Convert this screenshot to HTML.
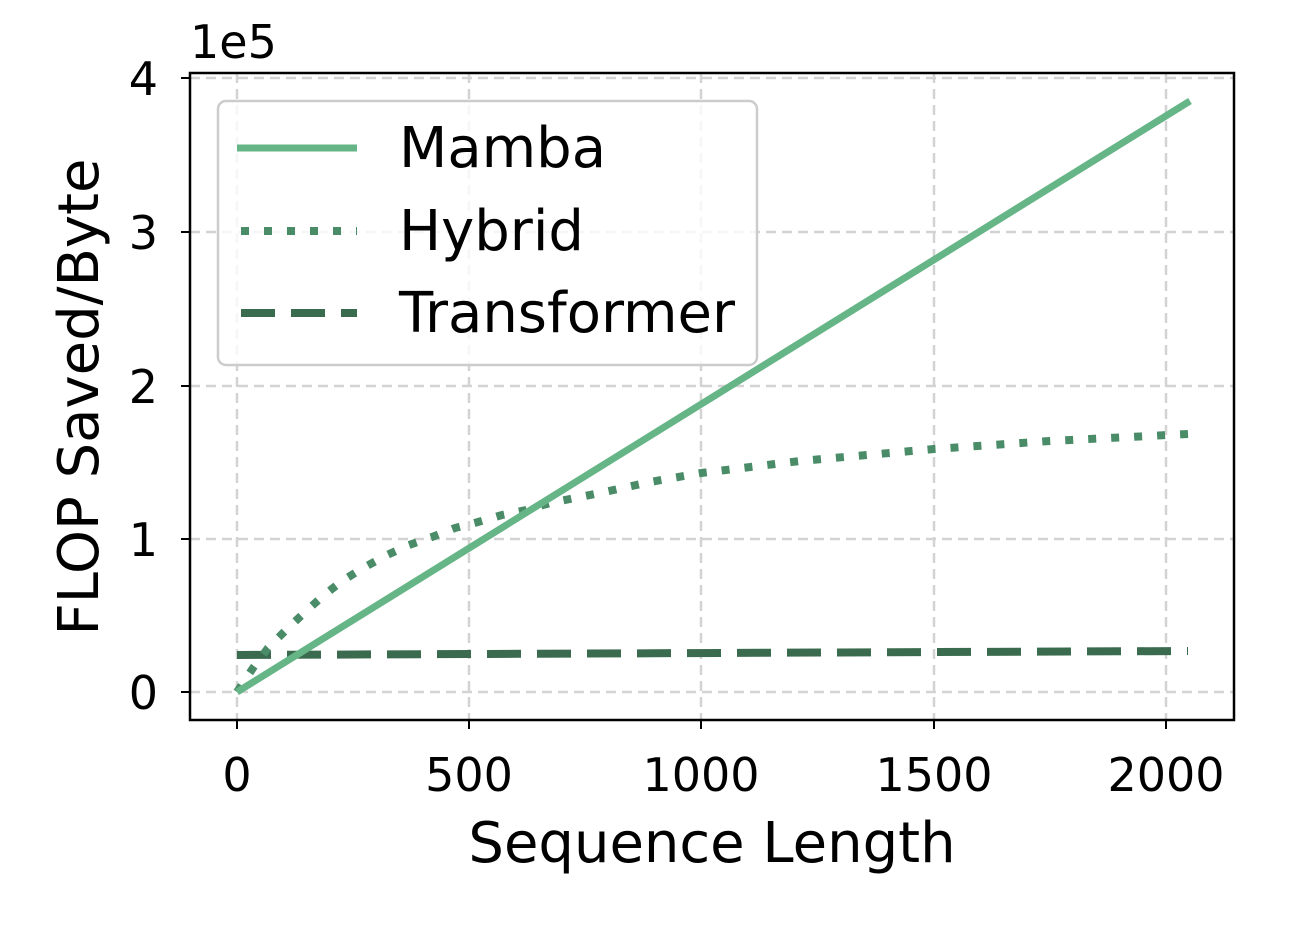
<!DOCTYPE html>
<html><head><style>body{margin:0;background:#fff}</style></head><body>
<svg width="1294" height="940" xmlns="http://www.w3.org/2000/svg" font-family="'DejaVu Sans','Liberation Sans',sans-serif">
<rect width="1294" height="940" fill="#fff"/>
<g stroke="#d3d3d3" stroke-width="2.5" stroke-dasharray="10,6">
<line x1="237" y1="73" x2="237" y2="720"/><line x1="469" y1="73" x2="469" y2="720"/><line x1="701" y1="73" x2="701" y2="720"/><line x1="934" y1="73" x2="934" y2="720"/><line x1="1166" y1="73" x2="1166" y2="720"/>
<line x1="190" y1="692" x2="1234" y2="692"/><line x1="190" y1="539" x2="1234" y2="539"/><line x1="190" y1="386" x2="1234" y2="386"/><line x1="190" y1="232" x2="1234" y2="232"/><line x1="190" y1="78" x2="1234" y2="78"/>
</g>
<polyline fill="none" stroke="#3b6b4f" stroke-width="8" stroke-dasharray="34,16" points="237,655 1188,651"/>
<polyline fill="none" stroke="#4a8c67" stroke-width="8" stroke-dasharray="8,15" points="237,692 253,668 268,648 286,630 304,613 323,596 342,581 363,568 387,555 409,545 432,537 455,528 478,522 502,515 526,510 550,503 600,493 650,482 701,473 800,461 934,449 1050,441 1188,434"/>
<line x1="237" y1="692" x2="1190" y2="101" stroke="#66b587" stroke-width="7"/>
<rect x="190" y="73" width="1044" height="647" fill="none" stroke="#000" stroke-width="2.5"/>
<g stroke="#000" stroke-width="2">
<line x1="237" y1="720" x2="237" y2="729"/><line x1="469" y1="720" x2="469" y2="729"/><line x1="701" y1="720" x2="701" y2="729"/><line x1="934" y1="720" x2="934" y2="729"/><line x1="1166" y1="720" x2="1166" y2="729"/>
<line x1="181" y1="692" x2="190" y2="692"/><line x1="181" y1="539" x2="190" y2="539"/><line x1="181" y1="386" x2="190" y2="386"/><line x1="181" y1="232" x2="190" y2="232"/><line x1="181" y1="78" x2="190" y2="78"/>
</g>
<g font-size="46" text-anchor="middle" fill="#000">
<text x="237" y="791">0</text><text x="469" y="791">500</text><text x="701" y="791">1000</text><text x="934" y="791">1500</text><text x="1166" y="791">2000</text>
</g>
<g font-size="46" text-anchor="end" fill="#000">
<text x="158" y="709">0</text><text x="158" y="556">1</text><text x="158" y="403">2</text><text x="158" y="249">3</text><text x="158" y="95">4</text>
</g>
<text x="190" y="58" font-size="46">1e5</text>
<text x="712" y="862" font-size="56" text-anchor="middle">Sequence Length</text>
<text transform="translate(98,397) rotate(-90)" font-size="56" text-anchor="middle">FLOP Saved/Byte</text>
<rect x="218" y="101" width="539" height="264" rx="8" fill="#fff" fill-opacity="0.8" stroke="#ccc" stroke-width="2.5"/>
<line x1="237" y1="148" x2="357" y2="148" stroke="#66b587" stroke-width="7"/>
<line x1="241" y1="231" x2="357" y2="231" stroke="#4a8c67" stroke-width="8" stroke-dasharray="8,15"/>
<line x1="241" y1="313" x2="357" y2="313" stroke="#3b6b4f" stroke-width="8" stroke-dasharray="34,16"/>
<g font-size="56" fill="#000">
<text x="399" y="167">Mamba</text><text x="399" y="250">Hybrid</text><text x="399" y="332">Transformer</text>
</g>
</svg>
</body></html>
